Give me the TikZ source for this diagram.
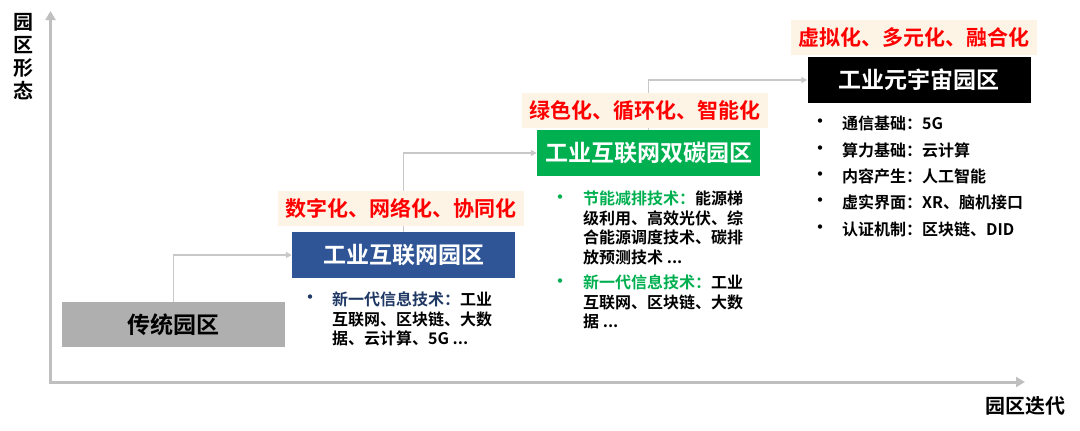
\documentclass[tikz,border=0pt]{standalone}
\usepackage{fontspec}
\setmainfont{Noto Sans CJK SC}[UprightFont=* Bold]
\usetikzlibrary{arrows.meta}
\definecolor{axisgray}{RGB}{191,191,191}
\definecolor{linkgray}{RGB}{200,200,200}
\definecolor{oldgray}{RGB}{175,175,175}
\definecolor{iipblue}{RGB}{47,85,151}
\definecolor{carbongreen}{RGB}{0,176,80}
\definecolor{tagcream}{RGB}{253,244,230}
\definecolor{navy}{RGB}{31,56,100}

\begin{document}
\begin{tikzpicture}[x=1pt, y=-1pt,
stagenode/.style={minimum width=223pt, minimum height=46pt, inner sep=0pt, font=\fontsize{23}{23}\selectfont},
tagnode/.style={fill=tagcream, text=red, minimum width=246pt, minimum height=35pt, inner sep=0pt, font=\fontsize{21}{21}\selectfont},
linkarrow/.style={draw=linkgray, line width=1.5pt, -{Triangle[length=6pt,width=6pt]}},
axisline/.style={draw=axisgray, line width=3pt, {Triangle[length=9pt,width=10pt]}-{Triangle[length=9pt,width=10pt]}},
listnode/.style={anchor=north west, align=left, inner sep=0pt, font=\fontsize{16}{19.5}\selectfont},
itemnode/.style={anchor=west, inner sep=0pt, font=\fontsize{16}{16}\selectfont},
dotnode/.style={inner sep=0pt, font=\fontsize{17}{17}\selectfont}
]
    \useasboundingbox (0,0) rectangle (1080,431);

    % axes
    \coordinate (origin) at (50.5,382);
    \coordinate (ytip) at (50.5,11);
    \coordinate (xtip) at (1025,382);
    \draw[axisline] (ytip) -- (origin) -- (xtip);
    \node[font=\fontsize{20}{23}\selectfont, align=center] (ylabel) at (23,57) {园\\区\\形\\态};
    \node[font=\fontsize{20}{20}\selectfont] (xlabel) at (1025,406) {园区迭代};

    % stages
    \node[stagenode, fill=oldgray, minimum height=45pt] (old) at (173.5,324.5) {传统园区};
    \node[stagenode, fill=iipblue, text=white] (iip) at (403.5,255) {工业互联网园区};
    \node[stagenode, fill=carbongreen, text=white] (carbon) at (648.5,153) {工业互联网双碳园区};
    \node[stagenode, fill=black, text=white] (meta) at (919,80) {工业元宇宙园区};

    \draw[linkarrow] (old.north) |- (iip.west);
    \draw[linkarrow] (iip.north) |- (carbon.west);
    \draw[linkarrow] (carbon.north) |- (meta.west);

    % tags
    \node[tagnode] (iiptag) at (400.5,208) {数字化、网络化、协同化};
    \node[tagnode] (carbontag) at (645,110.5) {绿色化、循环化、智能化};
    \node[tagnode] (metatag) at (914,37) {虚拟化、多元化、融合化};

    % lists
    \node[dotnode, text=navy] (iipdot) at (310,299) {•};
    \node[listnode] (iiplist) at (332,292) {\textcolor{navy}{新一代信息技术：}工业\\互联网、区块链、大数\\据、云计算、5G ...};

    \node[dotnode, text=carbongreen] (carbondot1) at (560,199) {•};
    \node[listnode] (carbonlist1) at (583,191) {\textcolor{carbongreen}{节能减排技术：}能源梯\\级利用、高效光伏、综\\合能源调度技术、碳排\\放预测技术 ...};
    \node[dotnode, text=carbongreen] (carbondot2) at (560,283) {•};
    \node[listnode] (carbonlist2) at (583,275) {\textcolor{carbongreen}{新一代信息技术：}工业\\互联网、区块链、大数\\据 ...};

    \node[dotnode] (metadot1) at (820,123) {•};
    \node[itemnode] (metaitem1) at (842,123) {通信基础：5G};
    \node[dotnode] (metadot2) at (820,150) {•};
    \node[itemnode] (metaitem2) at (842,150) {算力基础：云计算};
    \node[dotnode] (metadot3) at (820,176) {•};
    \node[itemnode] (metaitem3) at (842,176) {内容产生：人工智能};
    \node[dotnode] (metadot4) at (820,202) {•};
    \node[itemnode] (metaitem4) at (842,202) {虚实界面：XR、脑机接口};
    \node[dotnode] (metadot5) at (820,229) {•};
    \node[itemnode] (metaitem5) at (842,229) {认证机制：区块链、DID};
\end{tikzpicture}
\end{document}
